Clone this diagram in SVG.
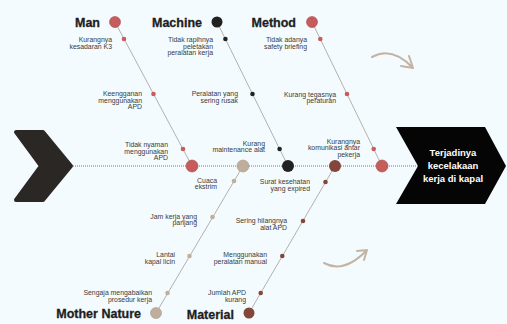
<svg xmlns="http://www.w3.org/2000/svg" width="507" height="324" viewBox="0 0 507 324">
<defs>
<style>
.lbl{font-family:"Liberation Sans",Arial,sans-serif;font-size:6.9px;fill:#3a3a3a;text-anchor:end}
.cat{font-family:"Liberation Sans",Arial,sans-serif;font-size:12.5px;font-weight:bold;fill:#1e1e1e;text-anchor:end;stroke:#1e1e1e;stroke-width:0.3}
.br{stroke:#9b8f8a;stroke-width:0.7;fill:none}
.red{fill:#c65c5c}
.blk{fill:#222222}
.bei{fill:#bfae9c}
.brn{fill:#82463a}
.deco{fill:none;stroke:#c3b4a4;stroke-width:2;stroke-linecap:round;stroke-linejoin:round}
</style>
</defs>
<rect width="507" height="324" fill="#f4fbfe"/>

<g id="decor">
<path class="deco" d="M372,57 Q392,46 413,68 M413,68 L409,56 M413,68 L401,66"/>
<path class="deco" d="M324,263 Q344,274 367,250 M367,250 L357,251 M367,250 L364,260"/>
</g>

<g id="connectors">
<line x1="73" y1="166" x2="418" y2="166" stroke="#7a7a7a" stroke-width="1" stroke-dasharray="1 1"/>
<line class="br" x1="115" y1="22" x2="192" y2="166"/>
<line class="br" x1="217" y1="22" x2="288" y2="166"/>
<line class="br" x1="312" y1="22" x2="382" y2="166"/>
<line class="br" x1="156" y1="313" x2="243" y2="166"/>
<line class="br" x1="249" y1="313" x2="335" y2="166"/>
</g>

<g id="tail">
<path d="M16,132 L43,132 L71,166 L43,200 L16,200 L41,166 Z" fill="#2a2725" stroke="#2a2725" stroke-width="4" stroke-linejoin="round"/>
</g>

<g id="head">
<path d="M396,127 L485,127 L506,166 L485,204 L396,204 L418,166 Z" fill="#050505"/>
<text x="453" y="156" font-family="'Liberation Sans',Arial,sans-serif" font-size="9.5" font-weight="bold" fill="#ffffff" text-anchor="middle">Terjadinya</text>
<text x="453" y="169" font-family="'Liberation Sans',Arial,sans-serif" font-size="9.5" font-weight="bold" fill="#ffffff" text-anchor="middle">kecelakaan</text>
<text x="453" y="182" font-family="'Liberation Sans',Arial,sans-serif" font-size="9.5" font-weight="bold" fill="#ffffff" text-anchor="middle">kerja di kapal</text>
</g>

<g id="spine-nodes">
<circle class="red" cx="192" cy="166" r="6" stroke="#a84a4a" stroke-width="0.6"/>
<circle class="bei" cx="243" cy="166" r="6" stroke="#a89884" stroke-width="0.6"/>
<circle class="blk" cx="288" cy="166" r="6"/>
<circle class="brn" cx="335" cy="166" r="6"/>
<circle class="red" cx="382" cy="166" r="6" stroke="#a84a4a" stroke-width="0.6"/>
</g>

<g id="man">
<circle class="red" cx="115" cy="22" r="5.5" stroke="#a84a4a" stroke-width="0.6"/>
<text class="cat" x="100" y="27">Man</text>
<circle class="red" cx="124" cy="39" r="2.3"/>
<text class="lbl" x="112" y="41.5">Kurangnya</text>
<text class="lbl" x="112" y="48.5">kesadaran K3</text>
<circle class="red" cx="153.5" cy="94" r="2.3"/>
<text class="lbl" x="142" y="96">Keengganan</text>
<text class="lbl" x="142" y="102.7">menggunakan</text>
<text class="lbl" x="142" y="109.4">APD</text>
<circle class="red" cx="183" cy="149" r="2.3"/>
<text class="lbl" x="168" y="147">Tidak nyaman</text>
<text class="lbl" x="168" y="153.5">menggunakan</text>
<text class="lbl" x="168" y="160">APD</text>
</g>

<g id="machine">
<circle class="blk" cx="217" cy="22" r="5.5"/>
<text class="cat" x="202" y="27">Machine</text>
<circle class="blk" cx="225.4" cy="39" r="2.3"/>
<text class="lbl" x="213" y="42">Tidak rapihnya</text>
<text class="lbl" x="213" y="48.7">peletakan</text>
<text class="lbl" x="213" y="55.4">peralatan kerja</text>
<circle class="blk" cx="252.5" cy="94" r="2.3"/>
<text class="lbl" x="238" y="96">Peralatan yang</text>
<text class="lbl" x="238" y="102.7">sering rusak</text>
<circle class="blk" cx="279.6" cy="149" r="2.3"/>
<text class="lbl" x="265" y="145.5">Kurang</text>
<text class="lbl" x="265" y="152.2">maintenance alat</text>
</g>

<g id="method">
<circle class="red" cx="312" cy="22" r="5.5" stroke="#a84a4a" stroke-width="0.6"/>
<text class="cat" x="296" y="27">Method</text>
<circle class="red" cx="320.3" cy="39" r="2.3"/>
<text class="lbl" x="307" y="41.5">Tidak adanya</text>
<text class="lbl" x="307" y="48.5">safety briefing</text>
<circle class="red" cx="347" cy="94" r="2.3"/>
<text class="lbl" x="336" y="96.5">Kurang tegasnya</text>
<text class="lbl" x="336" y="103.2">peraturan</text>
<circle class="red" cx="373.7" cy="149" r="2.3"/>
<text class="lbl" x="360" y="143.5">Kurangnya</text>
<text class="lbl" x="360" y="150.2">komunikasi antar</text>
<text class="lbl" x="360" y="156.9">pekerja</text>
</g>

<g id="mother-nature">
<circle class="bei" cx="156" cy="313" r="5.5" stroke="#a89884" stroke-width="0.6"/>
<text class="cat" x="141" y="318">Mother Nature</text>
<circle class="bei" cx="234" cy="181" r="2.3"/>
<text class="lbl" x="217" y="182.5">Cuaca</text>
<text class="lbl" x="217" y="189">ekstrim</text>
<circle class="bei" cx="212.5" cy="217" r="2.3"/>
<text class="lbl" x="197" y="218.5">Jam kerja yang</text>
<text class="lbl" x="197" y="225.2">panjang</text>
<circle class="bei" cx="189.5" cy="256" r="2.3"/>
<text class="lbl" x="175" y="256.5">Lantai</text>
<text class="lbl" x="175" y="263.5">kapal licin</text>
<circle class="bei" cx="167.5" cy="293" r="2.3"/>
<text class="lbl" x="152" y="294.5">Sengaja mengabaikan</text>
<text class="lbl" x="152" y="301.5">prosedur kerja</text>
</g>

<g id="material">
<circle class="brn" cx="249" cy="313" r="5.5"/>
<text class="cat" x="234" y="319">Material</text>
<circle class="brn" cx="325.5" cy="182" r="2.3"/>
<text class="lbl" x="310" y="184">Surat kesehatan</text>
<text class="lbl" x="310" y="190.7">yang expired</text>
<circle class="brn" cx="303" cy="221" r="2.3"/>
<text class="lbl" x="287" y="223">Sering hilangnya</text>
<text class="lbl" x="287" y="229.7">alat APD</text>
<circle class="brn" cx="282.3" cy="256" r="2.3"/>
<text class="lbl" x="267" y="256.5">Menggunakan</text>
<text class="lbl" x="267" y="263.5">peralatan manual</text>
<circle class="brn" cx="260.7" cy="293" r="2.3"/>
<text class="lbl" x="246" y="295">Jumlah APD</text>
<text class="lbl" x="246" y="301.7">kurang</text>
</g>
</svg>
